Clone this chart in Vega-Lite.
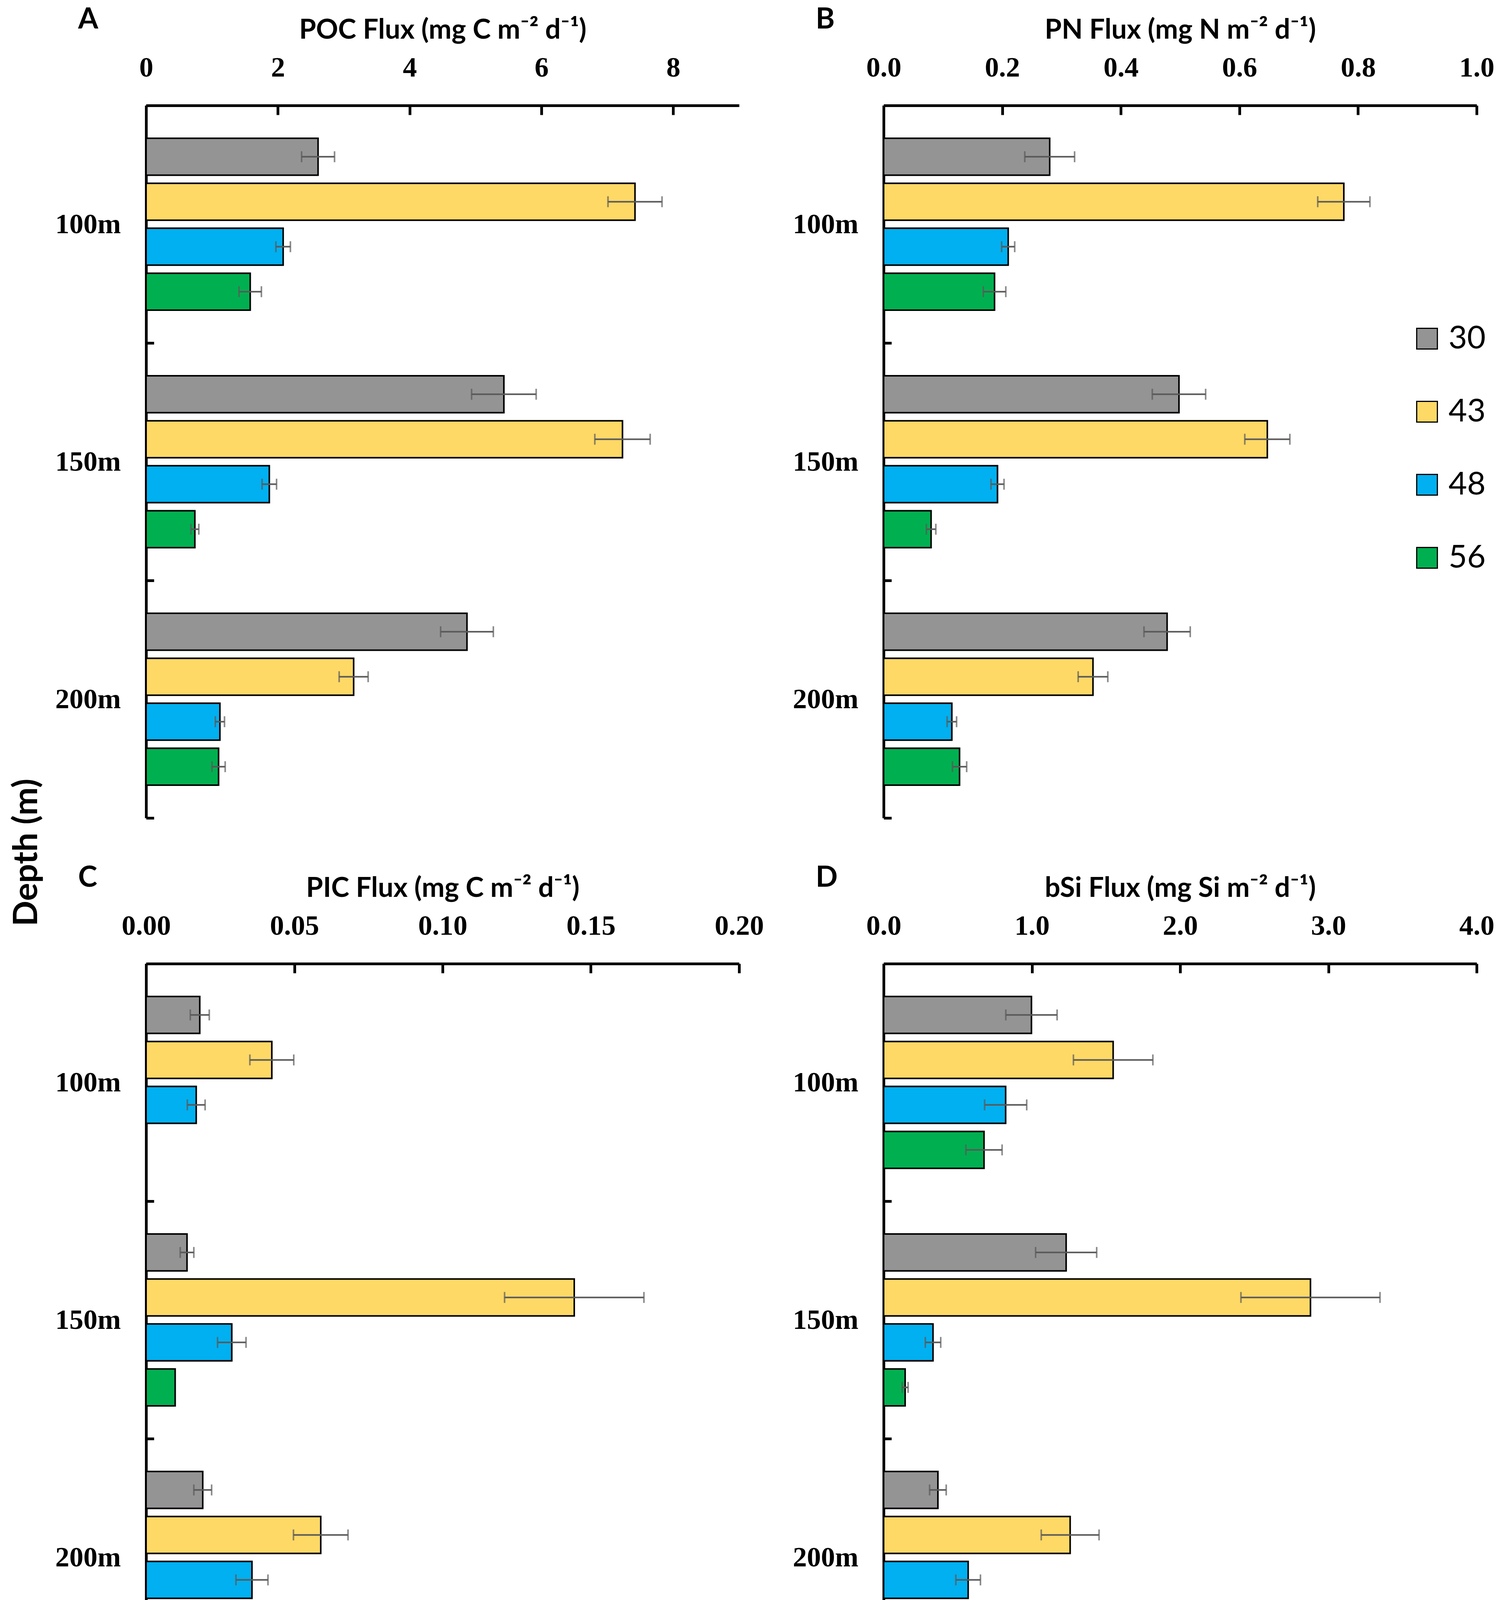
{
  "$schema": "https://vega.github.io/schema/vega-lite/v6.json",
  "description": "POC, PN, PIC and bSi flux by depth for four cruises",
  "padding": {"left": 26, "top": 14, "right": 10, "bottom": 10},
  "title": {"text": "Depth (m)", "orient": "left", "anchor": "middle", "frame": "bounds", "fontSize": 86, "offset": 28, "dx": -28},
  "data": {
    "values": [
      {"panel": "A", "depth": "100m", "cruise": "30", "value": 2.61, "err": 0.25},
      {"panel": "A", "depth": "100m", "cruise": "43", "value": 7.42, "err": 0.41},
      {"panel": "A", "depth": "100m", "cruise": "48", "value": 2.08, "err": 0.11},
      {"panel": "A", "depth": "100m", "cruise": "56", "value": 1.58, "err": 0.17},
      {"panel": "A", "depth": "150m", "cruise": "30", "value": 5.43, "err": 0.49},
      {"panel": "A", "depth": "150m", "cruise": "43", "value": 7.23, "err": 0.42},
      {"panel": "A", "depth": "150m", "cruise": "48", "value": 1.87, "err": 0.11},
      {"panel": "A", "depth": "150m", "cruise": "56", "value": 0.74, "err": 0.06},
      {"panel": "A", "depth": "200m", "cruise": "30", "value": 4.87, "err": 0.40},
      {"panel": "A", "depth": "200m", "cruise": "43", "value": 3.15, "err": 0.22},
      {"panel": "A", "depth": "200m", "cruise": "48", "value": 1.12, "err": 0.07},
      {"panel": "A", "depth": "200m", "cruise": "56", "value": 1.10, "err": 0.10},
      {"panel": "B", "depth": "100m", "cruise": "30", "value": 0.280, "err": 0.042},
      {"panel": "B", "depth": "100m", "cruise": "43", "value": 0.776, "err": 0.044},
      {"panel": "B", "depth": "100m", "cruise": "48", "value": 0.210, "err": 0.011},
      {"panel": "B", "depth": "100m", "cruise": "56", "value": 0.187, "err": 0.019},
      {"panel": "B", "depth": "150m", "cruise": "30", "value": 0.498, "err": 0.045},
      {"panel": "B", "depth": "150m", "cruise": "43", "value": 0.647, "err": 0.038},
      {"panel": "B", "depth": "150m", "cruise": "48", "value": 0.192, "err": 0.011},
      {"panel": "B", "depth": "150m", "cruise": "56", "value": 0.080, "err": 0.008},
      {"panel": "B", "depth": "200m", "cruise": "30", "value": 0.478, "err": 0.039},
      {"panel": "B", "depth": "200m", "cruise": "43", "value": 0.353, "err": 0.025},
      {"panel": "B", "depth": "200m", "cruise": "48", "value": 0.115, "err": 0.008},
      {"panel": "B", "depth": "200m", "cruise": "56", "value": 0.128, "err": 0.012},
      {"panel": "C", "depth": "100m", "cruise": "30", "value": 0.0181, "err": 0.0032},
      {"panel": "C", "depth": "100m", "cruise": "43", "value": 0.0424, "err": 0.0074},
      {"panel": "C", "depth": "100m", "cruise": "48", "value": 0.0169, "err": 0.0030},
      {"panel": "C", "depth": "150m", "cruise": "30", "value": 0.0138, "err": 0.0023},
      {"panel": "C", "depth": "150m", "cruise": "43", "value": 0.1444, "err": 0.0235},
      {"panel": "C", "depth": "150m", "cruise": "48", "value": 0.0289, "err": 0.0048},
      {"panel": "C", "depth": "150m", "cruise": "56", "value": 0.0098, "err": 0},
      {"panel": "C", "depth": "200m", "cruise": "30", "value": 0.0191, "err": 0.0030},
      {"panel": "C", "depth": "200m", "cruise": "43", "value": 0.0589, "err": 0.0092},
      {"panel": "C", "depth": "200m", "cruise": "48", "value": 0.0357, "err": 0.0054},
      {"panel": "D", "depth": "100m", "cruise": "30", "value": 0.997, "err": 0.173},
      {"panel": "D", "depth": "100m", "cruise": "43", "value": 1.548, "err": 0.268},
      {"panel": "D", "depth": "100m", "cruise": "48", "value": 0.823, "err": 0.142},
      {"panel": "D", "depth": "100m", "cruise": "56", "value": 0.677, "err": 0.122},
      {"panel": "D", "depth": "150m", "cruise": "30", "value": 1.231, "err": 0.206},
      {"panel": "D", "depth": "150m", "cruise": "43", "value": 2.879, "err": 0.469},
      {"panel": "D", "depth": "150m", "cruise": "48", "value": 0.333, "err": 0.052},
      {"panel": "D", "depth": "150m", "cruise": "56", "value": 0.145, "err": 0.020},
      {"panel": "D", "depth": "200m", "cruise": "30", "value": 0.366, "err": 0.056},
      {"panel": "D", "depth": "200m", "cruise": "43", "value": 1.258, "err": 0.195},
      {"panel": "D", "depth": "200m", "cruise": "48", "value": 0.570, "err": 0.083},
      {"panel": "D", "depth": "200m", "cruise": "56", "value": 0.145, "err": 0.018}
    ]
  },
  "columns": 2,
  "bounds": "flush",
  "spacing": {"row": 373, "column": 370},
  "resolve": {"legend": {"color": "independent"}},
  "concat": [
    {
      "width": 1518,
      "height": 1824,
      "title": {"text": "A", "dx": -174, "dy": 51},
      "transform": [{"filter": "datum.panel == 'A'"}],
      "encoding": {
        "x": {"field": "value", "type": "quantitative", "scale": {"domain": [0, 9], "nice": false},
          "axis": {"title": "POC Flux (mg C m⁻² d⁻¹)", "values": [0, 2, 4, 6, 8], "format": "d"}},
        "y": {"field": "depth", "type": "nominal", "scale": {"domain": ["100m", "150m", "200m"], "paddingInner": 0, "paddingOuter": 0}},
        "yOffset": {"field": "cruise", "type": "nominal", "scale": {"domain": ["30", "43", "48", "56"], "paddingInner": 0.18, "paddingOuter": 0.73}}
      },
      "layer": [
        {
          "mark": {"type": "bar", "stroke": "black", "strokeWidth": 4},
          "encoding": {
            "color": {"field": "cruise", "type": "nominal", "legend": null,
              "scale": {"domain": ["30", "43", "48", "56"], "range": ["#949494", "#ffd966", "#00b0f0", "#00b050"]}}
          }
        },
        {
          "transform": [{"filter": "datum.err > 0"}],
          "mark": {"type": "errorbar", "ticks": {"size": 28, "color": "#595959"}, "rule": {"color": "#595959"}, "thickness": 4},
          "encoding": {"xError": {"field": "err"}}
        }
      ]
    },
    {
      "width": 1518,
      "height": 1824,
      "title": {"text": "B", "dx": -174, "dy": 51},
      "transform": [{"filter": "datum.panel == 'B'"}],
      "encoding": {
        "x": {"field": "value", "type": "quantitative", "scale": {"domain": [0, 1], "nice": false},
          "axis": {"title": "PN Flux (mg N m⁻² d⁻¹)", "values": [0, 0.2, 0.4, 0.6, 0.8, 1.0], "format": ".1f"}},
        "y": {"field": "depth", "type": "nominal", "scale": {"domain": ["100m", "150m", "200m"], "paddingInner": 0, "paddingOuter": 0}},
        "yOffset": {"field": "cruise", "type": "nominal", "scale": {"domain": ["30", "43", "48", "56"], "paddingInner": 0.18, "paddingOuter": 0.73}}
      },
      "layer": [
        {
          "mark": {"type": "bar", "stroke": "black", "strokeWidth": 4},
          "encoding": {
            "color": {"field": "cruise", "type": "nominal",
              "scale": {"domain": ["30", "43", "48", "56"], "range": ["#949494", "#ffd966", "#00b0f0", "#00b050"]},
              "legend": {"orient": "none", "legendX": 1350, "legendY": 556, "title": null, "symbolType": "square",
                "symbolSize": 2800, "symbolStrokeColor": "black", "symbolStrokeWidth": 3, "symbolOpacity": 1,
                "labelFont": "Lato", "labelFontSize": 82, "labelColor": "black", "labelOffset": 14, "rowPadding": 105}}
          }
        },
        {
          "transform": [{"filter": "datum.err > 0"}],
          "mark": {"type": "errorbar", "ticks": {"size": 28, "color": "#595959"}, "rule": {"color": "#595959"}, "thickness": 4},
          "encoding": {"xError": {"field": "err"}}
        }
      ]
    },
    {
      "width": 1518,
      "height": 1824,
      "title": {"text": "C", "dx": -174, "dy": 51},
      "transform": [{"filter": "datum.panel == 'C'"}],
      "encoding": {
        "x": {"field": "value", "type": "quantitative", "scale": {"domain": [0, 0.2], "nice": false},
          "axis": {"title": "PIC Flux (mg C m⁻² d⁻¹)", "values": [0, 0.05, 0.1, 0.15, 0.2], "format": ".2f"}},
        "y": {"field": "depth", "type": "nominal", "scale": {"domain": ["100m", "150m", "200m"], "paddingInner": 0, "paddingOuter": 0}},
        "yOffset": {"field": "cruise", "type": "nominal", "scale": {"domain": ["30", "43", "48", "56"], "paddingInner": 0.18, "paddingOuter": 0.73}}
      },
      "layer": [
        {
          "mark": {"type": "bar", "stroke": "black", "strokeWidth": 4},
          "encoding": {
            "color": {"field": "cruise", "type": "nominal", "legend": null,
              "scale": {"domain": ["30", "43", "48", "56"], "range": ["#949494", "#ffd966", "#00b0f0", "#00b050"]}}
          }
        },
        {
          "transform": [{"filter": "datum.err > 0"}],
          "mark": {"type": "errorbar", "ticks": {"size": 28, "color": "#595959"}, "rule": {"color": "#595959"}, "thickness": 4},
          "encoding": {"xError": {"field": "err"}}
        }
      ]
    },
    {
      "width": 1518,
      "height": 1824,
      "title": {"text": "D", "dx": -174, "dy": 51},
      "transform": [{"filter": "datum.panel == 'D'"}],
      "encoding": {
        "x": {"field": "value", "type": "quantitative", "scale": {"domain": [0, 4], "nice": false},
          "axis": {"title": "bSi Flux (mg Si m⁻² d⁻¹)", "values": [0, 1, 2, 3, 4], "format": ".1f"}},
        "y": {"field": "depth", "type": "nominal", "scale": {"domain": ["100m", "150m", "200m"], "paddingInner": 0, "paddingOuter": 0}},
        "yOffset": {"field": "cruise", "type": "nominal", "scale": {"domain": ["30", "43", "48", "56"], "paddingInner": 0.18, "paddingOuter": 0.73}}
      },
      "layer": [
        {
          "mark": {"type": "bar", "stroke": "black", "strokeWidth": 4},
          "encoding": {
            "color": {"field": "cruise", "type": "nominal", "legend": null,
              "scale": {"domain": ["30", "43", "48", "56"], "range": ["#949494", "#ffd966", "#00b0f0", "#00b050"]}}
          }
        },
        {
          "transform": [{"filter": "datum.err > 0"}],
          "mark": {"type": "errorbar", "ticks": {"size": 28, "color": "#595959"}, "rule": {"color": "#595959"}, "thickness": 4},
          "encoding": {"xError": {"field": "err"}}
        }
      ]
    }
  ],
  "config": {
    "view": {"stroke": null},
    "axis": {
      "grid": false,
      "domainColor": "black",
      "domainWidth": 7,
      "tickColor": "black",
      "tickWidth": 7,
      "labelFont": "Liberation Serif",
      "labelFontWeight": "bold",
      "labelFontSize": 72,
      "labelColor": "black",
      "titleFont": "Lato",
      "titleFontWeight": "bold",
      "titleFontSize": 70,
      "titleColor": "black"
    },
    "axisX": {"orient": "top", "tickSize": -24, "labelPadding": 84, "labelFlush": false, "labelOverlap": false, "titlePadding": 24},
    "axisY": {"title": null, "tickBand": "extent", "tickSize": -20, "labelPadding": 85, "labelAngle": 0},
    "title": {"font": "Lato", "fontSize": 74, "fontWeight": "bold", "anchor": "start", "frame": "group", "color": "black"}
  }
}
